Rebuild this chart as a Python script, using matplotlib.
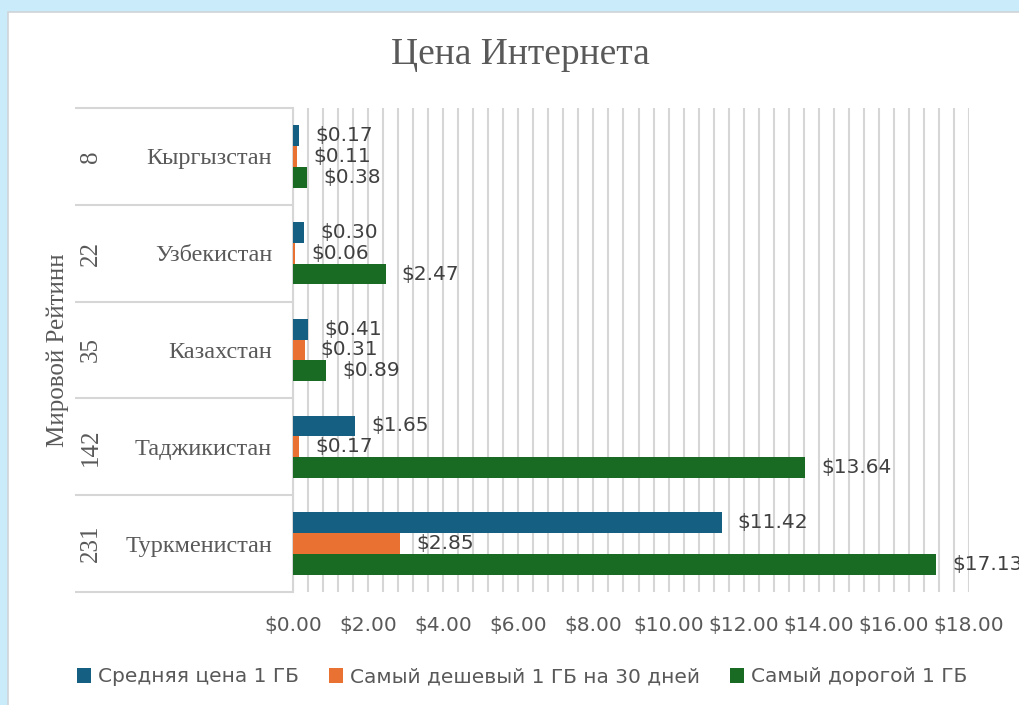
import matplotlib as mpl
mpl.use('Agg')
import matplotlib.pyplot as plt
import matplotlib.patches as mpatches
import numpy as np

countries = ["Кыргызстан", "Узбекистан", "Казахстан", "Таджикистан", "Туркменистан"]
ranks = ["8", "22", "35", "142", "231"]
avg_price = [0.17, 0.30, 0.41, 1.65, 11.42]
cheapest_30d = [0.11, 0.06, 0.31, 0.17, 2.85]
most_expensive = [0.38, 2.47, 0.89, 13.64, 17.13]
series_names = ["Средняя цена 1 ГБ", "Самый дешевый 1 ГБ на 30 дней", "Самый дорогой 1 ГБ"]
x_ticks = [0, 2, 4, 6, 8, 10, 12, 14, 16, 18]

colors = ["#156082", "#E97132", "#196B24"]
grey_text = "#595959"
line_col = "#d6d6d6"
serif = ["Liberation Serif", "DejaVu Serif"]

fig = plt.figure(figsize=(10.19, 7.05), dpi=100)
fig.patch.set_facecolor("#c9ebfa")
# white chart area with thin grey edge (behind the axes)
fig.patches.append(mpatches.Rectangle((8/1019, -0.05), 1.2, 1 - 12/705 + 0.05,
                                      transform=fig.transFigure, facecolor="white",
                                      edgecolor="#cfd4d8", lw=1.2, zorder=-10))

ax = fig.add_axes([293/1019, 1 - 592/705, 676/1019, 484/705])
ax.set_facecolor("none")

h = 0.215
y = np.arange(len(countries))
series = [avg_price, cheapest_30d, most_expensive]
bars = []
for k, vals in enumerate(series):
    b = ax.barh(y + (k - 1) * h, vals, height=h, color=colors[k], label=series_names[k], zorder=3)
    bars.append(b)
    for yy, v in zip(y + (k - 1) * h, vals):
        ax.annotate("$%.2f" % v, (v, yy), xytext=(11.5, 0), textcoords="offset points",
                    va="center", ha="left", fontsize=14.5, color="#404040",
                    annotation_clip=False, zorder=4)

ax.set_xlim(0, 18)
ax.set_ylim(4.5, -0.5)
ax.set_xticks(x_ticks)
ax.set_xticklabels(["$%.2f" % t for t in x_ticks])
ax.set_xticks(np.arange(0, 18.01, 0.4), minor=True)
ax.grid(True, axis="x", which="both", color=line_col, lw=1.5, zorder=0)
ax.tick_params(axis="x", which="both", length=0, pad=17, labelsize=14.5, labelcolor=grey_text)

ax.set_yticks(y)
ax.set_yticklabels(countries, fontfamily=serif, fontsize=17.5)
ax.tick_params(axis="y", length=0, pad=15, labelcolor=grey_text)

for s in ["top", "right", "bottom"]:
    ax.spines[s].set_visible(False)
ax.spines["left"].set_color(line_col)
ax.spines["left"].set_linewidth(1.5)

# category row separators and rank labels
trans = ax.get_yaxis_transform()
x_left = (75 - 293) / 676
ax.hlines(np.arange(-0.5, 5, 1), x_left, 0, transform=trans, color=line_col, lw=1.5, clip_on=False)
for yy, r in zip(y, ranks):
    ax.text((91 - 293) / 676, yy, r, transform=trans, rotation=90, ha="center", va="center",
            fontfamily=serif, fontsize=18, color=grey_text)
ax.text((58 - 293) / 676, 0.5, "Мировой Рейтинн", transform=ax.transAxes, rotation=90,
        ha="center", va="center", fontfamily=serif, fontsize=18, color=grey_text)

fig.text(520/1019, 1 - 55/705, "Цена Интернета", ha="center", va="center",
         fontfamily=serif, fontsize=27, color=grey_text)

fig.legend(handles=bars, labels=series_names, loc="center", bbox_to_anchor=(522/1019, 1 - 677/705),
           ncol=3, frameon=False, fontsize=14.5, labelcolor=grey_text,
           handlelength=0.7, handleheight=0.7, handletextpad=0.35, columnspacing=1.5)

fig.savefig("out.png", dpi=100)
